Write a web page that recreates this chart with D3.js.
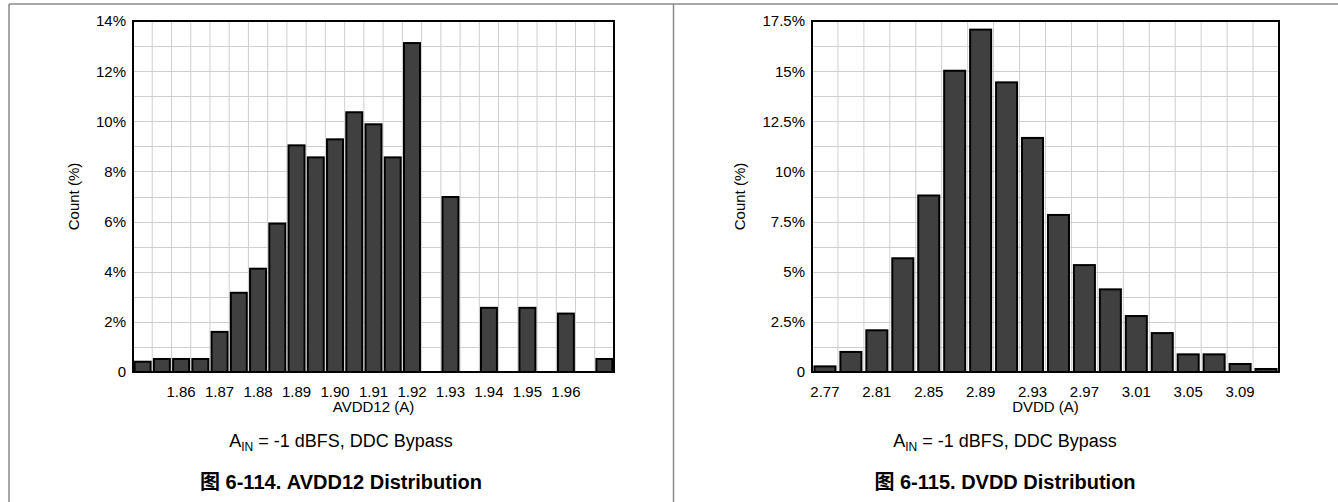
<!DOCTYPE html>
<html>
<head>
<meta charset="utf-8">
<script src="https://cdn.jsdelivr.net/npm/d3@7"></script>
<style>
  html, body { margin: 0; padding: 0; background: #fff; }
  svg { display: block; font-family: "Liberation Sans", Arial, "Noto Sans CJK SC", sans-serif; }
</style>
</head>
<body>
<svg id="chart" width="1338" height="502"></svg>
<script>
// ---------- DATA ----------
const avddBins = [1.850, 1.855, 1.860, 1.865, 1.870, 1.875, 1.880, 1.885, 1.890, 1.895,
                  1.900, 1.905, 1.910, 1.915, 1.920, 1.925, 1.930, 1.935, 1.940, 1.945,
                  1.950, 1.955, 1.960, 1.965, 1.970];
const avddPct  = [0.41, 0.52, 0.52, 0.52, 1.60, 3.16, 4.12, 5.92, 9.04, 8.56,
                  9.28, 10.36, 9.88, 8.56, 13.12, 0, 6.98, 0, 2.56, 0,
                  2.56, 0, 2.33, 0, 0.52];
const avddXTicks = ["1.86", "1.87", "1.88", "1.89", "1.90", "1.91", "1.92", "1.93", "1.94", "1.95", "1.96"];
const avddYTicks = [0, 2, 4, 6, 8, 10, 12, 14];
const avddYTickLabels = ["0", "2%", "4%", "6%", "8%", "10%", "12%", "14%"];

const dvddBins = [2.77, 2.79, 2.81, 2.83, 2.85, 2.87, 2.89, 2.91, 2.93,
                  2.95, 2.97, 2.99, 3.01, 3.03, 3.05, 3.07, 3.09, 3.11];
const dvddPct  = [0.28, 1.00, 2.08, 5.67, 8.80, 15.02, 17.07, 14.44, 11.67,
                  7.83, 5.33, 4.12, 2.79, 1.94, 0.88, 0.88, 0.40, 0.15];
const dvddXTicks = ["2.77", "2.81", "2.85", "2.89", "2.93", "2.97", "3.01", "3.05", "3.09"];
const dvddYTicks = [0, 2.5, 5, 7.5, 10, 12.5, 15, 17.5];
const dvddYTickLabels = ["0", "2.5%", "5%", "7.5%", "10%", "12.5%", "15%", "17.5%"];

const panels = [
  { bins: avddBins, vals: avddPct, xTicks: avddXTicks, yTicks: avddYTicks, yLabels: avddYTickLabels,
    yMax: 14, yMinorStep: 1, xTitle: "AVDD12 (A)", caption: "图 6-114. AVDD12 Distribution",
    box: { x0: 133, x1: 614, y0: 21, y1: 372 }, pad: 0.17, yTitleX: 74, center: 341 },
  { bins: dvddBins, vals: dvddPct, xTicks: dvddXTicks, yTicks: dvddYTicks, yLabels: dvddYTickLabels,
    yMax: 17.5, yMinorStep: 1.25, xTitle: "DVDD (A)", caption: "图 6-115. DVDD Distribution",
    box: { x0: 812, x1: 1279, y0: 21, y1: 372 }, pad: 0.19, yTitleX: 740, center: 1005 }
];

// ---------- DRAW ----------
const svg = d3.select("#chart");

// frame lines
const frame = svg.append("g").attr("stroke", "#8a8a8a").attr("stroke-width", 1.5).attr("fill", "none");
frame.append("line").attr("x1", 9).attr("x2", 1338).attr("y1", 4).attr("y2", 4);
frame.append("line").attr("x1", 9).attr("x2", 9).attr("y1", 4).attr("y2", 502);
frame.append("line").attr("x1", 673.5).attr("x2", 673.5).attr("y1", 4).attr("y2", 502);

panels.forEach(p => {
  const b = p.box;
  const g = svg.append("g");
  const x = d3.scaleBand().domain(p.bins.map(String)).range([b.x0, b.x1])
    .paddingInner(p.pad).paddingOuter(p.pad / 2);
  const y = d3.scaleLinear().domain([0, p.yMax]).range([b.y1, b.y0]);
  const step = x.step();

  // horizontal grid
  const hTicks = d3.range(0, p.yMax + 1e-9, p.yMinorStep);
  g.append("g").selectAll("line").data(hTicks).join("line")
    .attr("x1", b.x0).attr("x2", b.x1)
    .attr("y1", d => Math.round(y(d)) + 0.5).attr("y2", d => Math.round(y(d)) + 0.5)
    .attr("stroke", "#cfcfcf").attr("stroke-width", 1);
  // vertical grid at bin boundaries
  g.append("g").selectAll("line").data(p.bins.slice(1)).join("line")
    .attr("x1", d => x(String(d)) - step * p.pad / 2)
    .attr("x2", d => x(String(d)) - step * p.pad / 2)
    .attr("y1", b.y0).attr("y2", b.y1)
    .attr("stroke", "#cfcfcf").attr("stroke-width", 1);

  // bars
  const data = p.bins.map((bin, i) => ({ bin: String(bin), v: p.vals[i] })).filter(d => d.v > 0);
  g.append("g").selectAll("rect").data(data).join("rect")
    .attr("x", d => x(d.bin))
    .attr("width", x.bandwidth())
    .attr("y", d => y(d.v))
    .attr("height", d => y(0) - y(d.v))
    .attr("fill", "#404040")
    .attr("stroke", "#000")
    .attr("stroke-width", 2);

  // plot border
  g.append("rect").attr("x", b.x0).attr("y", b.y0)
    .attr("width", b.x1 - b.x0).attr("height", b.y1 - b.y0)
    .attr("fill", "none").attr("stroke", "#000").attr("stroke-width", 2);

  // y tick labels
  g.append("g").selectAll("text").data(p.yTicks).join("text")
    .attr("x", b.x0 - 7).attr("y", d => y(d)).attr("dy", "0.36em")
    .attr("text-anchor", "end").attr("font-size", 15).attr("fill", "#000")
    .text((d, i) => p.yLabels[i]);

  // x tick labels
  g.append("g").selectAll("text").data(p.xTicks).join("text")
    .attr("x", t => {
      const bin = p.bins.find(v => Math.abs(v - parseFloat(t)) < 1e-9);
      return x(String(bin)) + x.bandwidth() / 2;
    })
    .attr("y", 397).attr("text-anchor", "middle").attr("font-size", 15).attr("fill", "#000")
    .text(t => t);

  // axis titles
  g.append("text").attr("x", (b.x0 + b.x1) / 2).attr("y", 412)
    .attr("text-anchor", "middle").attr("font-size", 15).text(p.xTitle);
  g.append("text").attr("transform", `translate(${p.yTitleX + 5},${(b.y0 + b.y1) / 2}) rotate(-90)`)
    .attr("text-anchor", "middle").attr("font-size", 15).text("Count (%)");

  // subtitle with subscript
  const st = g.append("text").attr("x", p.center).attr("y", 447)
    .attr("text-anchor", "middle").attr("font-size", 18);
  st.append("tspan").text("A");
  st.append("tspan").attr("font-size", 12).attr("dy", 4).text("IN");
  st.append("tspan").attr("dy", -4).text(" = -1 dBFS, DDC Bypass");

  // caption
  g.append("text").attr("x", p.center).attr("y", 489)
    .attr("text-anchor", "middle").attr("font-size", 20).attr("font-weight", "bold")
    .text(p.caption);
});
</script>
</body>
</html>
